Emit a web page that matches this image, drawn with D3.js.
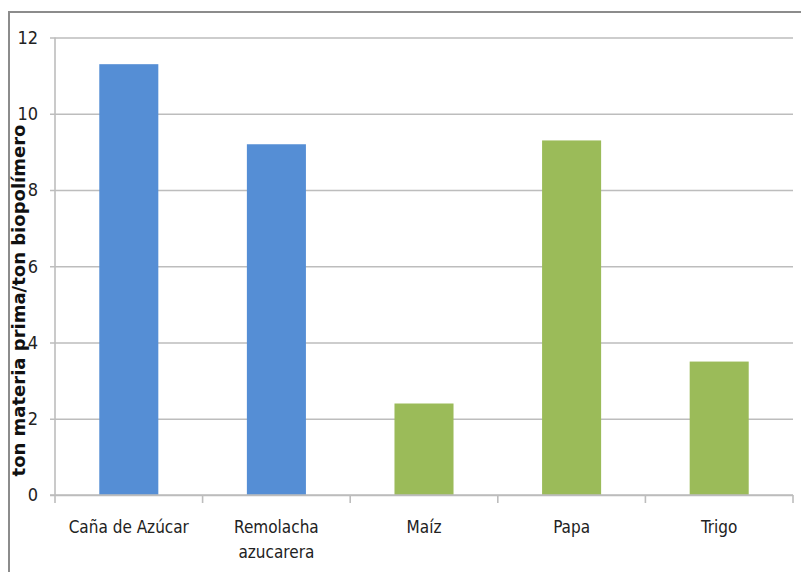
<!DOCTYPE html>
<html>
<head>
<meta charset="utf-8">
<script src="https://cdn.jsdelivr.net/npm/d3@7"></script>
<style>
  html, body { margin: 0; padding: 0; background: #fff; }
  svg { display: block; }
</style>
</head>
<body>
<svg id="chart" width="801" height="572"></svg>
<script>
// Raw material needed per ton of biopolymer, by crop
const categories = ["Caña de Azúcar", "Remolacha azucarera", "Maíz", "Papa", "Trigo"];
const values = [11.3, 9.2, 2.4, 9.3, 3.5];
const feedstock = ["sacarosa", "sacarosa", "almidón", "almidón", "almidón"];
const yTicks = [0, 2, 4, 6, 8, 10, 12];
const yTitle = "ton materia prima/ton biopolímero";

const colors = { "sacarosa": "#558ED5", "almidón": "#9BBB59" };
const gridColor = "#bdbdbd";
const textFont = "'Liberation Sans Narrow', 'DejaVu Sans Condensed', 'Liberation Sans', sans-serif";

const svg = d3.select("#chart");
const plot = { left: 55, right: 793, top: 37.5, bottom: 495 };

// outer chart frame
svg.append("path")
  .attr("d", "M9,580 L9,12 L810,12")
  .attr("fill", "none")
  .attr("stroke", "#8c8c8c")
  .attr("stroke-width", 2);

const x = d3.scaleBand()
  .domain(categories)
  .range([plot.left, plot.right])
  .paddingInner(0.6)
  .paddingOuter(0.3);

const y = d3.scaleLinear()
  .domain([0, 12])
  .range([plot.bottom, plot.top]);

// horizontal gridlines with the y axis
const yAxis = d3.axisLeft(y)
  .tickValues(yTicks)
  .tickSize(-(plot.right - plot.left))
  .tickPadding(14)
  .tickFormat(d3.format("d"));

const gy = svg.append("g")
  .attr("transform", `translate(${plot.left},0)`)
  .call(yAxis);
gy.select(".domain").remove();
gy.selectAll(".tick line")
  .attr("x1", -5)
  .attr("stroke", gridColor)
  .attr("stroke-width", 1.6);
gy.selectAll(".tick text")
  .attr("x", -17)
  .attr("font-family", textFont)
  .attr("font-size", 18)
  .attr("fill", "#222");

// vertical axis line
svg.append("line")
  .attr("x1", plot.left).attr("x2", plot.left)
  .attr("y1", y(12)).attr("y2", plot.bottom + 8)
  .attr("stroke", gridColor)
  .attr("stroke-width", 1.6);

// bars
svg.append("g").selectAll("rect")
  .data(categories)
  .join("rect")
  .attr("x", d => x(d))
  .attr("y", (d, i) => y(values[i]))
  .attr("width", x.bandwidth())
  .attr("height", (d, i) => y(0) - y(values[i]))
  .attr("fill", (d, i) => colors[feedstock[i]]);

// x axis baseline and category boundary ticks
svg.append("line")
  .attr("x1", plot.left - 5).attr("x2", plot.right)
  .attr("y1", plot.bottom).attr("y2", plot.bottom)
  .attr("stroke", gridColor)
  .attr("stroke-width", 1.6);

const step = x.step();
const boundaries = d3.range(categories.length + 1).map(i => plot.left + i * step);
svg.append("g").selectAll("line")
  .data(boundaries.slice(1))
  .join("line")
  .attr("x1", d => d).attr("x2", d => d)
  .attr("y1", plot.bottom).attr("y2", plot.bottom + 8)
  .attr("stroke", gridColor)
  .attr("stroke-width", 1.6);

// category labels, wrapped to two lines where needed
const labelLines = {
  "Remolacha azucarera": ["Remolacha", "azucarera"]
};
const labels = svg.append("g").selectAll("text")
  .data(categories)
  .join("text")
  .attr("x", d => x(d) + x.bandwidth() / 2)
  .attr("y", 533)
  .attr("text-anchor", "middle")
  .attr("font-family", textFont)
  .attr("font-size", 17)
  .attr("fill", "#222");
labels.each(function(d) {
  const lines = labelLines[d] || [d];
  const t = d3.select(this);
  lines.forEach((ln, i) => {
    t.append("tspan")
      .attr("x", x(d) + x.bandwidth() / 2)
      .attr("dy", i === 0 ? 0 : 25)
      .text(ln);
  });
});

// y axis title
svg.append("text")
  .attr("transform", `translate(25,${(123 + 478) / 2}) rotate(-90)`)
  .attr("text-anchor", "middle")
  .attr("font-family", "'DejaVu Sans', sans-serif")
  .attr("font-weight", "bold")
  .attr("font-size", 18)
  .attr("fill", "#111")
  .text(yTitle);
</script>
</body>
</html>
